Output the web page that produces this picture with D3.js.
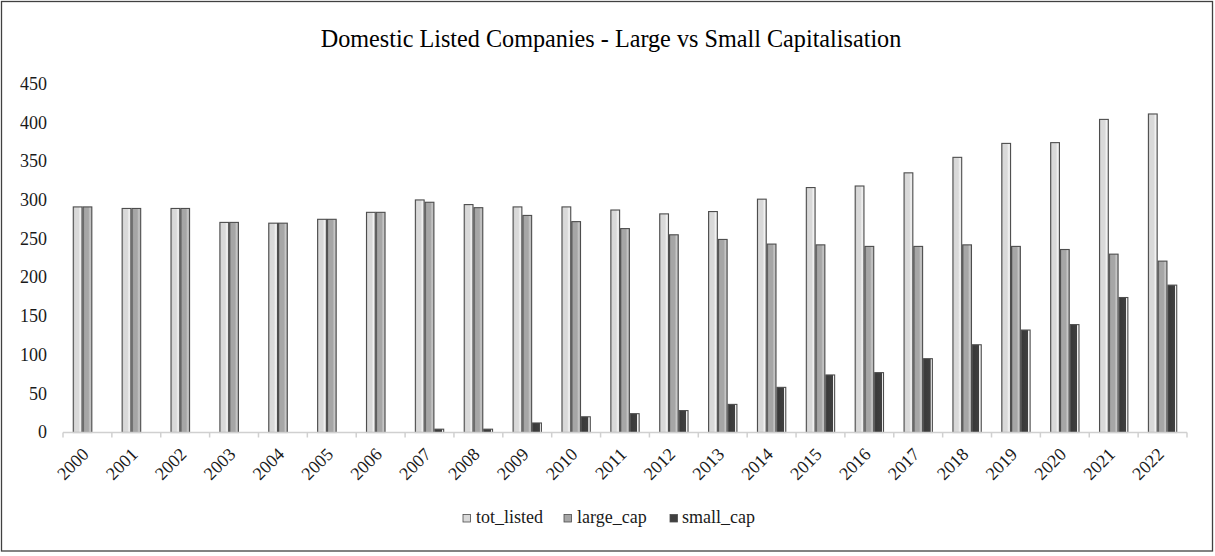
<!DOCTYPE html>
<html>
<head>
<meta charset="utf-8">
<script src="https://cdn.jsdelivr.net/npm/d3@7"></script>
<style>
  html, body { margin: 0; padding: 0; background: #fff; }
</style>
</head>
<body>
<svg id="chart" width="1215" height="556"></svg>
<script>
// Domestic listed companies by capitalisation, 2000–2022
const years = ["2000","2001","2002","2003","2004","2005","2006","2007","2008","2009","2010",
               "2011","2012","2013","2014","2015","2016","2017","2018","2019","2020","2021","2022"];
const totListed = [290, 288, 288, 270, 269, 274, 283, 299, 293, 290, 290,
                   286, 281, 284, 300, 315, 317, 334, 354, 372, 373, 403, 410];
const largeCap  = [290, 288, 288, 270, 269, 274, 283, 296, 289, 279, 271,
                   262, 254, 248, 242, 241, 239, 239, 241, 239, 235, 229, 220];
const smallCap  = [0, 0, 0, 0, 0, 0, 0, 3, 3, 11, 19,
                   23, 27, 35, 57, 73, 76, 94, 112, 131, 138, 173, 189];
const seriesNames = ["tot_listed", "large_cap", "small_cap"];
const yTicks = [0, 50, 100, 150, 200, 250, 300, 350, 400, 450];

const FONT = "'Liberation Serif', 'Times New Roman', serif";
const seriesValues = [totListed, largeCap, smallCap];
const palette = {
  tot_listed: { base: "#d9d9d9", dark: "#c4c4c4", light: "#f2f2f2" },
  large_cap:  { base: "#a6a6a6", dark: "#8c8c8c", light: "#c8c8c8" },
  small_cap:  { base: "#404040", dark: "#383838", light: "#f0f0f0" }
};

const W = 1215, H = 556;
const svg = d3.select("#chart").style("font-family", FONT);

svg.append("rect").attr("x", 0).attr("y", 0).attr("width", W).attr("height", H).attr("fill", "#fff");
// outer chart frame
svg.append("rect")
  .attr("x", 1.5).attr("y", 1.5).attr("width", 1211).attr("height", 549.5)
  .attr("fill", "none").attr("stroke", "#404040").attr("stroke-width", 1.3);

// shading gradients to give the columns a rounded 3-D feel
const defs = svg.append("defs");
seriesNames.forEach(name => {
  const c = palette[name];
  const g = defs.append("linearGradient").attr("id", "grad-" + name)
    .attr("x1", "0%").attr("x2", "100%").attr("y1", "0%").attr("y2", "0%");
  const stops = name === "small_cap"
    ? [[0, c.dark], [0.78, c.base], [0.8, c.light], [1, c.light]]
    : [[0, c.dark], [0.2, c.base], [0.6, c.base], [0.8, c.light], [1, c.base]];
  stops.forEach(([o, col]) => g.append("stop").attr("offset", o).attr("stop-color", col));
});

const plot = { left: 63, right: 1187, top: 83, bottom: 431.5 };

const x = d3.scaleBand().domain(years).range([plot.left, plot.right]).paddingInner(0).paddingOuter(0);
const xs = d3.scaleBand().domain(seriesNames)
  .range([x.bandwidth() * 0.2, x.bandwidth() * 0.8]).padding(0);
const y = d3.scaleLinear().domain([0, 450]).range([plot.bottom, plot.top]);

// title
svg.append("text")
  .attr("x", 611).attr("y", 47)
  .attr("text-anchor", "middle")
  .style("font-family", FONT)
  .style("font-size", "24.2px")
  .attr("fill", "#000")
  .text("Domestic Listed Companies - Large vs Small Capitalisation");

// y tick labels (no axis line)
const yAxis = d3.axisLeft(y).tickValues(yTicks).tickSize(0).tickPadding(0).tickFormat(d3.format("d"));
const yg = svg.append("g").attr("transform", "translate(47,0)").call(yAxis);
yg.select(".domain").remove();
yg.selectAll("text")
  .style("font-family", FONT).style("font-size", "18px")
  .attr("fill", "#1a1a1a").attr("dy", "0.35em");

// bars
const rows = years.map((yr, i) => ({ year: yr, vals: seriesNames.map((s, k) => ({ key: s, value: seriesValues[k][i] })) }));
const groups = svg.append("g").selectAll("g").data(rows).join("g")
  .attr("transform", d => `translate(${x(d.year)},0)`);

groups.selectAll("rect").data(d => d.vals.filter(v => v.value > 0)).join("rect")
  .attr("x", d => xs(d.key) + 0.5)
  .attr("width", xs.bandwidth() - 1)
  .attr("y", d => y(d.value))
  .attr("height", d => y(0) - y(d.value) + 1)
  .attr("fill", d => `url(#grad-${d.key})`)
  .attr("stroke", "#4d4d4d")
  .attr("stroke-width", 1.1);

// category axis line and boundary ticks
const axisG = svg.append("g");
axisG.append("line")
  .attr("x1", plot.left).attr("x2", plot.right)
  .attr("y1", plot.bottom + 1).attr("y2", plot.bottom + 1)
  .attr("stroke", "#d0d0d0").attr("stroke-width", 1.5);
const boundaries = years.map(d => x(d)).concat([plot.right]);
axisG.selectAll("line.tick").data(boundaries).join("line").attr("class", "tick")
  .attr("x1", d => d).attr("x2", d => d)
  .attr("y1", plot.bottom + 1).attr("y2", plot.bottom + 6)
  .attr("stroke", "#d0d0d0").attr("stroke-width", 1.5);

// rotated year labels
svg.append("g").selectAll("text").data(years).join("text")
  .attr("transform", d => `translate(${x(d) + x.bandwidth() / 2 + 2.5},${plot.bottom + 24}) rotate(-45)`)
  .attr("text-anchor", "end")
  .style("font-family", FONT)
  .style("font-size", "18px")
  .attr("fill", "#1a1a1a")
  .text(d => d);

// legend
const legendItems = [
  { key: "tot_listed", sx: 463, tx: 476 },
  { key: "large_cap", sx: 564, tx: 577 },
  { key: "small_cap", sx: 670, tx: 682 }
];
const lg = svg.append("g");
legendItems.forEach(it => {
  lg.append("rect").attr("x", it.sx).attr("y", 514.5).attr("width", 7.5).attr("height", 7.5)
    .attr("fill", palette[it.key].base).attr("stroke", "#4d4d4d").attr("stroke-width", 0.8);
  lg.append("text").attr("x", it.tx).attr("y", 523)
    .style("font-family", FONT).style("font-size", "18px")
    .attr("fill", "#1a1a1a").text(it.key);
});
</script>
</body>
</html>
